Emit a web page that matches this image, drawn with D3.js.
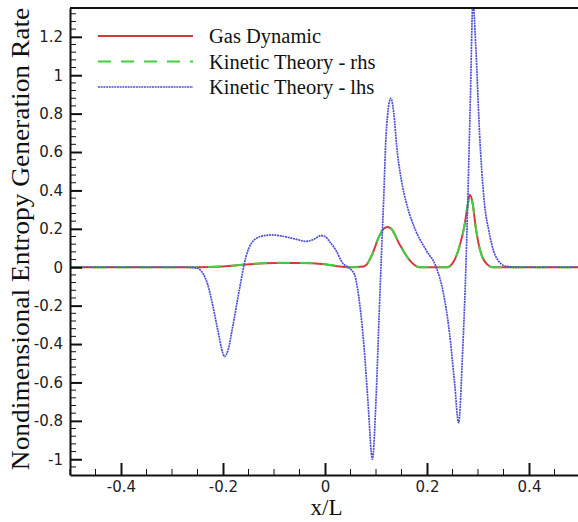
<!DOCTYPE html>
<html><head><meta charset="utf-8">
<script src="https://cdn.jsdelivr.net/npm/d3@7"></script>
<style>body{margin:0;background:#fff}svg{display:block}</style>
</head><body>
<svg id="c" width="578" height="522"></svg>
<script>
// Data
const gasX = [-0.5,-0.25,-0.2,-0.15,-0.1,-0.05,0.0,0.03,0.05,0.07,0.08,0.093,0.106,0.115,0.122,0.13,0.146,0.165,0.185,0.24,0.25,0.257,0.266,0.273,0.279,0.284,0.289,0.296,0.303,0.309,0.318,0.329,0.5];
const gasY = [0,0,0.004,0.015,0.022,0.022,0.015,0.004,0,0.002,0.01,0.07,0.16,0.2,0.21,0.2,0.12,0.04,0,0,0.02,0.055,0.13,0.21,0.31,0.377,0.34,0.2,0.1,0.05,0.015,0,0];
const rhsX = gasX.slice();
const rhsY = [0,0,0.004,0.016,0.023,0.023,0.016,0.005,0,0.002,0.01,0.07,0.16,0.2,0.21,0.2,0.12,0.04,0,0,0.02,0.055,0.13,0.21,0.31,0.375,0.34,0.2,0.1,0.05,0.015,0,0];
const lhsX = [-0.5,-0.27,-0.25,-0.24,-0.23,-0.22,-0.21,-0.2,-0.197,-0.19,-0.181,-0.168,-0.155,-0.135,-0.12,-0.103,-0.08,-0.06,-0.037,-0.02,-0.008,0.0,0.01,0.021,0.035,0.048,0.058,0.067,0.077,0.084,0.093,0.1,0.106,0.111,0.115,0.12,0.129,0.135,0.141,0.15,0.16,0.178,0.198,0.218,0.231,0.244,0.254,0.262,0.27,0.275,0.28,0.285,0.29,0.296,0.303,0.312,0.322,0.335,0.355,0.38,0.5];
const lhsY = [0,0,-0.005,-0.03,-0.09,-0.2,-0.33,-0.45,-0.466,-0.43,-0.31,-0.118,0.055,0.15,0.164,0.168,0.16,0.148,0.135,0.148,0.165,0.16,0.13,0.09,0.02,-0.005,-0.04,-0.17,-0.43,-0.69,-1.0,-0.69,-0.26,0.09,0.35,0.7,0.88,0.8,0.62,0.45,0.33,0.19,0.09,0.0,-0.12,-0.34,-0.6,-0.81,-0.43,-0.1,0.35,0.87,1.38,1.13,0.7,0.35,0.18,0.055,0.005,0,0];
const xTicks = [-0.4,-0.2,0,0.2,0.4];
const yTicks = [-1,-0.8,-0.6,-0.4,-0.2,0,0.2,0.4,0.6,0.8,1,1.2];
const seriesNames = ["Gas Dynamic","Kinetic Theory - rhs","Kinetic Theory - lhs"];

const SERIF = "Liberation Serif";
const svg = d3.select("#c");
const L = 70, R = 580, T = 8, B = 475;
const x = d3.scaleLinear().domain([-0.5,0.5]).range([L,R]);
const y = d3.scaleLinear().domain([-1.082,1.35]).range([B,T]);

svg.append("clipPath").attr("id","clip").append("rect")
  .attr("x",L).attr("y",T).attr("width",R-L).attr("height",B-T);

const line = d3.line().x(d=>x(d[0])).y(d=>y(d[1])).curve(d3.curveMonotoneX);
const g = svg.append("g").attr("clip-path","url(#clip)");
g.append("path").datum(d3.zip(gasX,gasY)).attr("d",line)
  .attr("fill","none").attr("stroke","#d43c3c").attr("stroke-width",2);
g.append("path").datum(d3.zip(rhsX,rhsY)).attr("d",line)
  .attr("fill","none").attr("stroke","#3fd23f").attr("stroke-width",2).attr("stroke-dasharray","13,10");
g.append("path").datum(d3.zip(lhsX,lhsY)).attr("d",line)
  .attr("fill","none").attr("stroke","#4e4ed8").attr("stroke-width",1.7).attr("stroke-dasharray","2,0.7");

// minor ticks
const minorX = d3.range(-0.5,0.5001,0.05).map(v=>+v.toFixed(3)).filter(v=>!xTicks.some(t=>Math.abs(t-v)<1e-6));
const minorY = d3.range(-1.04,1.35,0.04).map(v=>+v.toFixed(3)).filter(v=>!yTicks.some(t=>Math.abs(t-v)<1e-6));
svg.append("g").selectAll("line").data(minorX).join("line")
  .attr("x1",d=>x(d)).attr("x2",d=>x(d)).attr("y1",B).attr("y2",B-6).attr("stroke","#111").attr("stroke-width",1);
svg.append("g").selectAll("line").data(minorY).join("line")
  .attr("y1",d=>y(d)).attr("y2",d=>y(d)).attr("x1",L).attr("x2",L+6).attr("stroke","#111").attr("stroke-width",1);

const fmt = d => d===0 ? "0" : String(d);
const xa = svg.append("g").attr("transform",`translate(0,${B})`)
  .call(d3.axisBottom(x).tickValues(xTicks).tickFormat(fmt).tickSizeInner(-12).tickSizeOuter(0).tickPadding(6));
const ya = svg.append("g").attr("transform",`translate(${L},0)`)
  .call(d3.axisLeft(y).tickValues(yTicks).tickFormat(fmt).tickSizeInner(-12).tickSizeOuter(0).tickPadding(7));
[xa,ya].forEach(a=>{
  a.selectAll("text").style("font-family","DejaVu Sans").style("font-size","15px").attr("fill","#222");
  a.selectAll(".tick line").attr("stroke","#111").attr("stroke-width",2);
  a.select(".domain").attr("stroke","#111").attr("stroke-width",2);
});
svg.append("line").attr("x1",L).attr("x2",R).attr("y1",T).attr("y2",T).attr("stroke","#111").attr("stroke-width",2);
svg.append("line").attr("x1",R).attr("x2",R).attr("y1",T).attr("y2",B).attr("stroke","#111").attr("stroke-width",2);

// titles
svg.append("text").attr("x",326.5).attr("y",515).attr("text-anchor","middle")
  .style("font-family",SERIF).style("font-size","23px").attr("fill","#111")
  .text("x/L");
svg.append("text").attr("transform","translate(29,239) rotate(-90) scale(1.12,1)").attr("text-anchor","middle")
  .style("font-family",SERIF).style("font-size","24.5px").attr("fill","#111")
  .text("Nondimensional Entropy Generation Rate");

// legend
const legY = [36,61.5,87];
const legStroke = [["#d43c3c",2,null],["#3fd23f",2,"13,10"],["#4e4ed8",1.7,"2,0.7"]];
seriesNames.forEach((n,i)=>{
  const ln = svg.append("line").attr("x1",98).attr("x2",193).attr("y1",legY[i]).attr("y2",legY[i])
    .attr("stroke",legStroke[i][0]).attr("stroke-width",legStroke[i][1]);
  if(legStroke[i][2]) ln.attr("stroke-dasharray",legStroke[i][2]);
  svg.append("text").attr("x",209).attr("y",legY[i]+7)
    .style("font-family",SERIF).style("font-size","20.5px").attr("fill","#111").text(n);
});
</script>
</body></html>
